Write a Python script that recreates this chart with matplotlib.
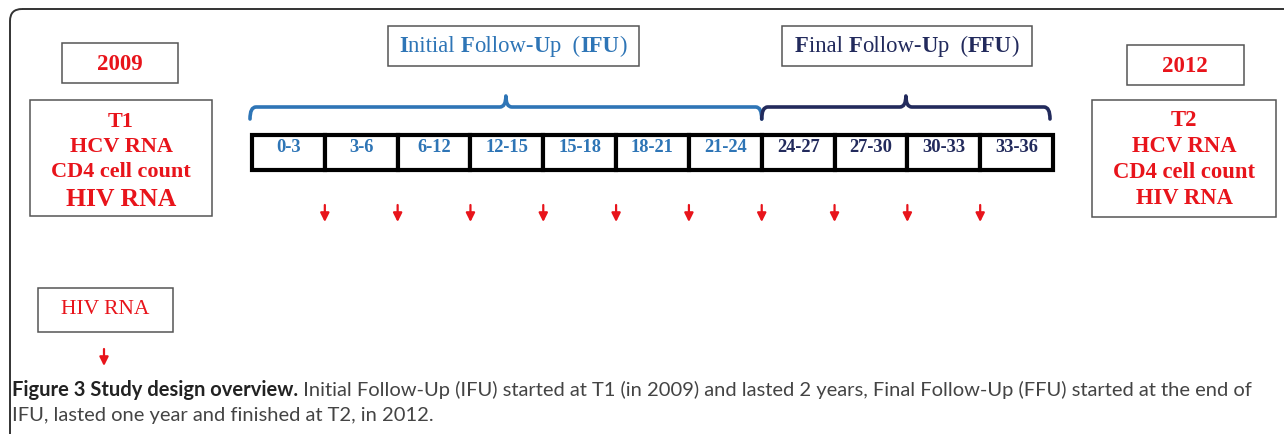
import matplotlib
matplotlib.use("Agg")
import matplotlib.pyplot as plt
from matplotlib.patches import Rectangle, FancyBboxPatch
from matplotlib.path import Path
from matplotlib.patches import PathPatch

# --- data ---
cell_labels = ['0-3', '3-6', '6-12', '12-15', '15-18', '18-21', '21-24',
               '24-27', '27-30', '30-33', '33-36']
n_ifu = 7            # cells in the initial follow-up
n_ffu = 4            # cells in the final follow-up
start_year = '2009'
end_year = '2012'
t1_lines = ['T1', 'HCV RNA', 'CD4 cell count', 'HIV RNA']
t2_lines = ['T2', 'HCV RNA', 'CD4 cell count', 'HIV RNA']
caption_bold = 'Figure 3 Study design overview.'
caption_rest = (' Initial Follow-Up (IFU) started at T1 (in 2009) and lasted 2 years, '
                'Final Follow-Up (FFU) started at the end of')
caption_line2 = 'IFU, lasted one year and finished at T2, in 2012.'

RED = '#e8141b'
BLUE = '#2e75b6'
NAVY = '#222a5c'
EDGE = '#555555'
SERIF = 'Liberation Serif'

W, H = 1284, 434
fig = plt.figure(figsize=(W / 100, H / 100), dpi=100)
ax = fig.add_axes([0, 0, 1, 1])
ax.set_xlim(0, W)
ax.set_ylim(H, 0)
ax.axis('off')

# outer frame with rounded top-left corner
frame = FancyBboxPatch((10, 9), 1400, 500, boxstyle='round,pad=0,rounding_size=12',
                       fc='none', ec='#333333', lw=1.4)
ax.add_patch(frame)


def box(x0, y0, x1, y1, lw=1.1):
    ax.add_patch(Rectangle((x0, y0), x1 - x0, y1 - y0, fc='white', ec=EDGE, lw=lw))


# year boxes
box(62, 43, 178, 83)
ax.text(120, 64, start_year, color=RED, fontsize=16.5, fontweight='bold',
        family=SERIF, ha='center', va='center')
box(1127, 45, 1244, 85)
ax.text(1185, 66, end_year, color=RED, fontsize=16.5, fontweight='bold',
        family=SERIF, ha='center', va='center')

# T1 / T2 boxes
box(30, 100, 212, 216)
for txt, yy, fs in zip(t1_lines, [122, 147, 172, 199], [16, 16, 16, 18.5]):
    ax.text(121, yy, txt, color=RED, fontsize=fs, fontweight='bold',
            family=SERIF, ha='center', va='center')
box(1092, 100, 1276, 217)
for txt, yy in zip(t2_lines, [121, 147, 173, 199]):
    ax.text(1184, yy, txt, color=RED, fontsize=16.3, fontweight='bold',
            family=SERIF, ha='center', va='center')

# HIV RNA box
box(38, 288, 173, 332)
ax.text(105, 309, 'HIV RNA', color=RED, fontsize=15.5, family=SERIF,
        ha='center', va='center')

# timeline cells
x_left, x_right = 252, 1053
y_top, y_bot = 135, 170
cw = (x_right - x_left) / len(cell_labels)
for i, lab in enumerate(cell_labels):
    x0 = x_left + i * cw
    ax.add_patch(Rectangle((x0, y_top), cw, y_bot - y_top, fc='white',
                           ec='black', lw=3))
    ax.text(x0 + cw / 2, 148, lab, color=BLUE if i < n_ifu else NAVY,
            fontsize=13.3, fontweight='bold', family=SERIF,
            ha='center', va='center')


def brace(xa, xb, color, y=107, drop=12, tip=11, r=6):
    xm = (xa + xb) / 2
    verts = [(xa, y + drop), (xa, y), (xa + r, y),
             (xm - r, y), (xm, y), (xm, y - tip),
             (xm, y), (xm + r, y),
             (xb - r, y), (xb, y), (xb, y + drop)]
    codes = [Path.MOVETO, Path.CURVE3, Path.CURVE3,
             Path.LINETO, Path.CURVE3, Path.CURVE3,
             Path.CURVE3, Path.CURVE3,
             Path.LINETO, Path.CURVE3, Path.CURVE3]
    ax.add_patch(PathPatch(Path(verts, codes), fc='none', ec=color, lw=2.6,
                           capstyle='round', joinstyle='round'))


ifu_end = x_left + n_ifu * cw
brace(x_left - 2, ifu_end, BLUE)
brace(ifu_end, x_left + (n_ifu + n_ffu) * cw - 3, NAVY)

# sampling arrows at every cell boundary
for i in range(1, len(cell_labels)):
    xb = x_left + i * cw
    ax.annotate('', xy=(xb, 222), xytext=(xb, 205),
                arrowprops=dict(arrowstyle='-|>', color=RED, lw=1.6,
                                mutation_scale=13, shrinkA=0, shrinkB=0))
ax.annotate('', xy=(104, 366), xytext=(104, 349),
            arrowprops=dict(arrowstyle='-|>', color=RED, lw=1.6,
                            mutation_scale=13, shrinkA=0, shrinkB=0))

fig.canvas.draw()
renderer = fig.canvas.get_renderer()


def rich_label(segments, xc, yc, box_xy, color):
    box(*box_xy)
    texts = [ax.text(0, yc, s, color=color, fontsize=16.3, family=SERIF,
                     fontweight='bold' if bold else 'normal',
                     ha='left', va='center') for s, bold in segments]
    widths = [t.get_window_extent(renderer).width for t in texts]
    x = xc - sum(widths) / 2
    for t, w in zip(texts, widths):
        t.set_x(x)
        x += w


rich_label([('I', True), ('nitial ', False), ('F', True), ('ollow-', False),
            ('U', True), ('p  (', False), ('IFU', True), (')', False)],
           513, 46, (388, 26, 639, 66), BLUE)
rich_label([('F', True), ('inal ', False), ('F', True), ('ollow-', False),
            ('U', True), ('p  (', False), ('FFU', True), (')', False)],
           907, 46, (782, 26, 1032, 66), NAVY)

# caption, sized so that the first line spans the frame like the reference
cap = 'Lato'
fs = 14
t_b = ax.text(12, 390, caption_bold, fontsize=fs, fontweight='bold',
              family=cap, color='#222222', ha='left', va='center')
t_r = ax.text(12, 390, caption_rest, fontsize=fs, family=cap,
              color='#444444', ha='left', va='center')
fig.canvas.draw()
total = t_b.get_window_extent(renderer).width + t_r.get_window_extent(renderer).width
fs = fs * 1250 / total
t_b.set_fontsize(fs)
t_r.set_fontsize(fs)
fig.canvas.draw()
t_r.set_x(12 + t_b.get_window_extent(renderer).width)
ax.text(12, 415, caption_line2, fontsize=fs, family=cap,
        color='#444444', ha='left', va='center')

fig.savefig('out.png', dpi=100)
